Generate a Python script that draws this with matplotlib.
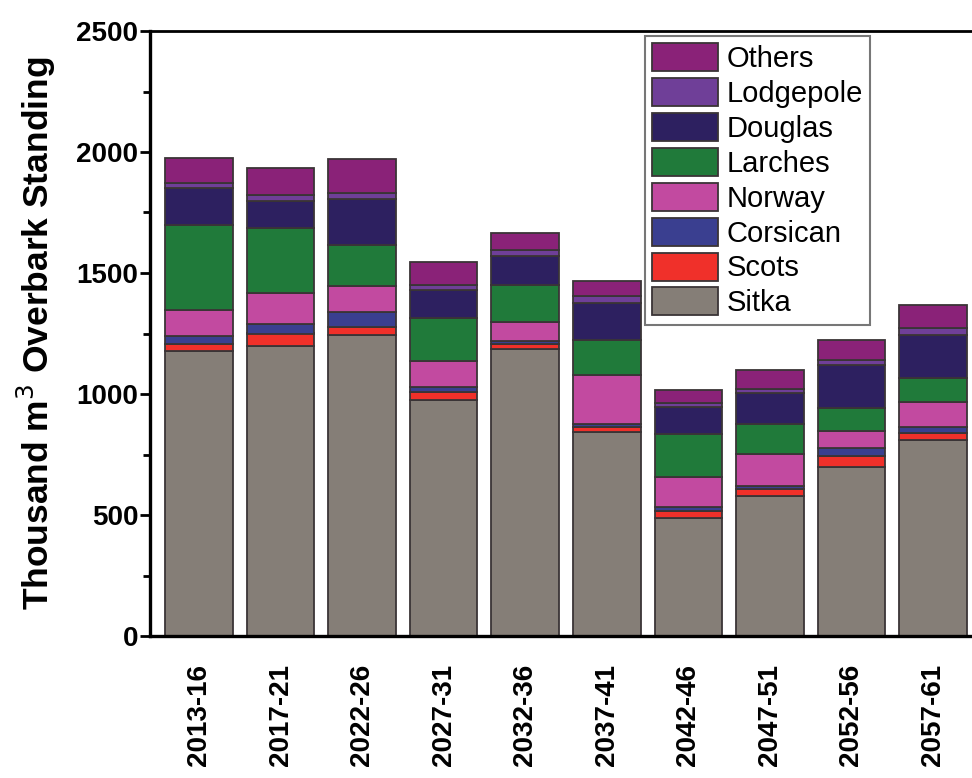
import matplotlib
matplotlib.use("Agg")
import matplotlib.pyplot as plt
import numpy as np

# Felling periods
periods = ["2013-16", "2017-21", "2022-26", "2027-31", "2032-36",
           "2037-41", "2042-46", "2047-51", "2052-56", "2057-61"]

# Standing volume by species (thousand m3 overbark), stacked bottom to top
sitka     = [1178, 1200, 1244, 975, 1186, 843, 488, 580, 698, 810]
scots     = [28, 50, 33, 33, 20, 21, 29, 29, 46, 29]
corsican  = [34, 41, 62, 21, 13, 12, 16, 12, 33, 25]
norway    = [107, 128, 107, 107, 78, 202, 124, 132, 70, 103]
larches   = [350, 265, 170, 178, 153, 145, 178, 124, 95, 99]
douglas   = [153, 115, 190, 116, 120, 153, 111, 128, 178, 178]
lodgepole = [20, 25, 24, 20, 25, 29, 17, 17, 20, 29]
others    = [105, 108, 141, 97, 71, 63, 53, 78, 83, 95]

species = ["Sitka", "Scots", "Corsican", "Norway", "Larches",
           "Douglas", "Lodgepole", "Others"]
series = [sitka, scots, corsican, norway, larches, douglas, lodgepole, others]
colors = ["#857e77", "#f0302a", "#3a3f90", "#c24aa0", "#207a3a",
          "#2d2060", "#6f3f98", "#8a2278"]

plt.rcParams["font.family"] = ["Liberation Sans", "DejaVu Sans"]

fig = plt.figure(figsize=(9.72, 7.78), dpi=100)
ax = fig.add_axes([150 / 972, 142 / 778, 832 / 972, 605 / 778])

x = np.arange(len(periods))
bottom = np.zeros(len(periods))
handles = []
for name, vals, col in zip(species, series, colors):
    vals = np.array(vals, dtype=float)
    b = ax.bar(x, vals, width=0.83, bottom=bottom, color=col,
               edgecolor="#3a3436", linewidth=1.3, label=name)
    handles.append(b)
    bottom += vals

ax.set_xlim(-0.6, 9.6)
ax.set_ylim(0, 2500)
ax.set_yticks(np.arange(0, 2501, 500))
ax.set_yticks(np.arange(250, 2500, 500), minor=True)
ax.set_xticks(x)
ax.set_xticklabels(periods, rotation=90, fontsize=20, fontweight="bold")
for lbl in ax.get_yticklabels():
    lbl.set_fontsize(20)
    lbl.set_fontweight("bold")

ax.tick_params(axis="y", which="major", direction="out", length=7, width=2, pad=1.5)
ax.tick_params(axis="y", which="minor", direction="out", length=5, width=2)
ax.tick_params(axis="x", which="both", length=0, pad=20)

for side in ["left", "bottom"]:
    ax.spines[side].set_linewidth(2.4)
ax.spines["top"].set_linewidth(2.0)
ax.spines["right"].set_linewidth(2.0)

ax.set_ylabel("Thousand m$^3$ Overbark Standing", fontsize=25.5,
              fontweight="bold", labelpad=13)

leg = ax.legend(handles[::-1], species[::-1], loc="upper left",
                bbox_to_anchor=(645 / 972, 1 - 36 / 778),
                bbox_transform=fig.transFigure, fontsize=21,
                frameon=True, fancybox=False, handlelength=2.25,
                handleheight=1.1, labelspacing=0.17, handletextpad=0.3,
                borderpad=0.25, borderaxespad=0)
leg.get_frame().set_edgecolor("#555555")
leg.get_frame().set_linewidth(1.5)

fig.savefig("out.png", dpi=100, facecolor="white")
